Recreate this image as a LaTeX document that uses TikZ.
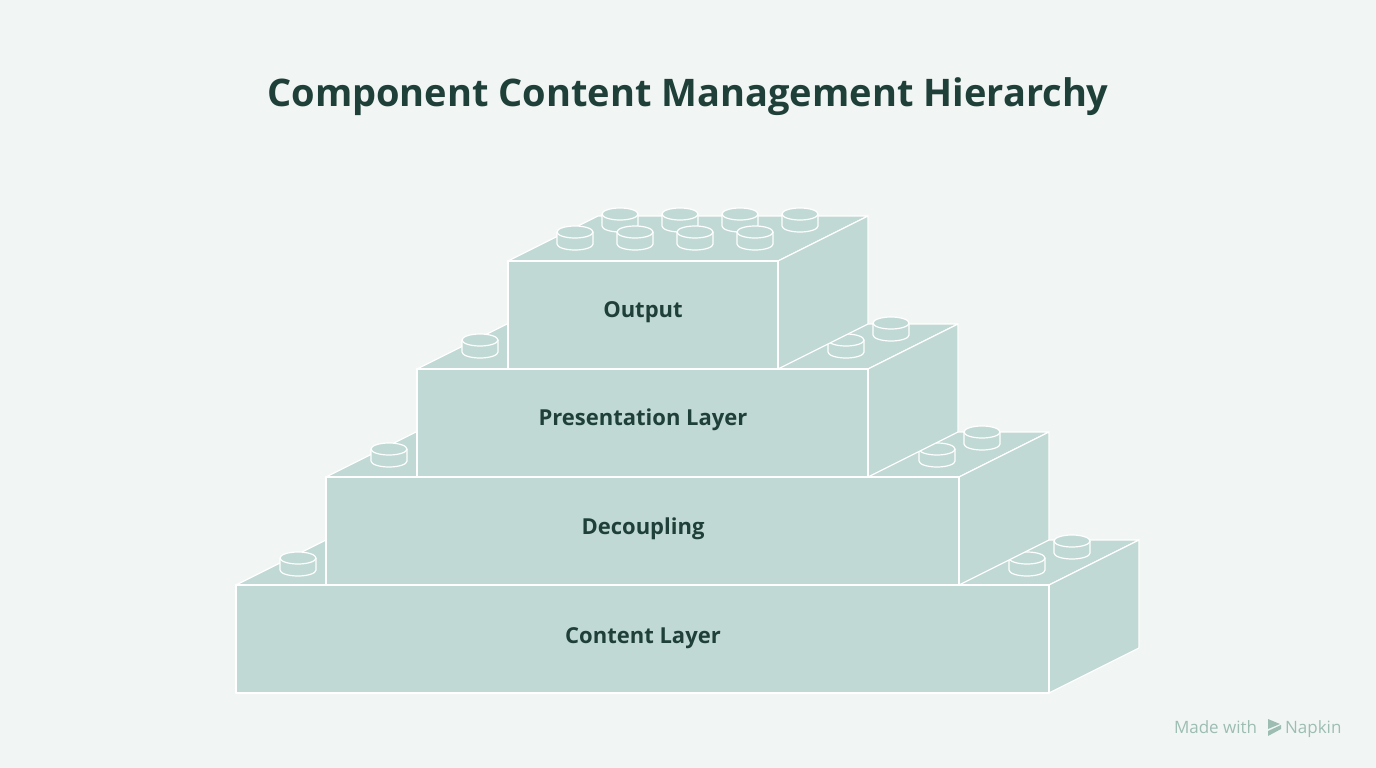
\documentclass[tikz,border=0pt]{standalone}
\usepackage{fontspec}
\setmainfont{Open Sans}
\begin{document}
\definecolor{bg}{HTML}{F1F6F4}
\definecolor{blk}{HTML}{C0D9D4}
\definecolor{txt}{HTML}{1F4038}
\definecolor{napk}{HTML}{9DBDB3}
\begin{tikzpicture}[x=1pt,y=-1pt,
  face/.style={fill=blk,draw=white,line width=1.2pt,line join=round},
  lbl/.style={text=txt,font=\bfseries\fontsize{22}{26}\selectfont}]
\fill[bg] (0,0) rectangle (1376,768);
\useasboundingbox (0,0) rectangle (1376,768);
\node[text=txt,font=\bfseries\fontsize{38}{44}\selectfont] (title) at (688,97) {Component Content Management Hierarchy};
\newcommand{\brick}[5]{% x1 x2 y1 y2 name
  \draw[face] (#1,#3) -- (#1+90,#3-45) -- (#2+90,#3-45) -- (#2,#3) -- cycle;
  \draw[face] (#2,#3) -- (#2+90,#3-45) -- (#2+90,#4-45) -- (#2,#4) -- cycle;
  \draw[face] (#1,#3) rectangle (#2,#4);
  \coordinate (#5) at ({(#1+#2)/2},{(#3+#4)/2});}
\newcommand{\stud}[2]{%
  \fill[blk] (#1-18,#2) rectangle (#1+18,#2+12);
  \draw[face] (#1-18,#2) -- (#1-18,#2+12) arc[start angle=180,end angle=0,x radius=18,y radius=6] -- (#1+18,#2);
  \draw[face] (#1,#2) ellipse[x radius=18,y radius=6];}
\brick{236}{1049}{585}{693}{c}
\stud{298}{558}\stud{1072}{541}\stud{1027}{558}
\brick{326}{959}{477}{585}{d}
\stud{389}{449}\stud{982}{432}\stud{937}{449}
\brick{417}{868}{369}{477}{p}
\stud{480}{340}\stud{891}{323}\stud{846}{340}
\brick{508}{778}{261}{369}{o}
\stud{620}{214}\stud{680}{214}\stud{740}{214}\stud{800}{214}
\stud{575}{232}\stud{635}{232}\stud{695}{232}\stud{755}{232}
\node[lbl] (lo) at (643,312) {Output};
\node[lbl] (lp) at (643,420) {Presentation Layer};
\node[lbl] (ld) at (643,529) {Decoupling};
\node[lbl] (lc) at (643,638) {Content Layer};
\node[text=napk,font=\fontsize{17}{20}\selectfont,anchor=east] (mw) at (1345,729) {Made with\hspace{28pt}Napkin};
\fill[napk] (1268,719) -- (1280,724) -- (1268,729) -- cycle;
\fill[napk] (1268,731) -- (1281,725) -- (1281,729) -- (1268,736) -- cycle;
\end{tikzpicture}
\end{document}
